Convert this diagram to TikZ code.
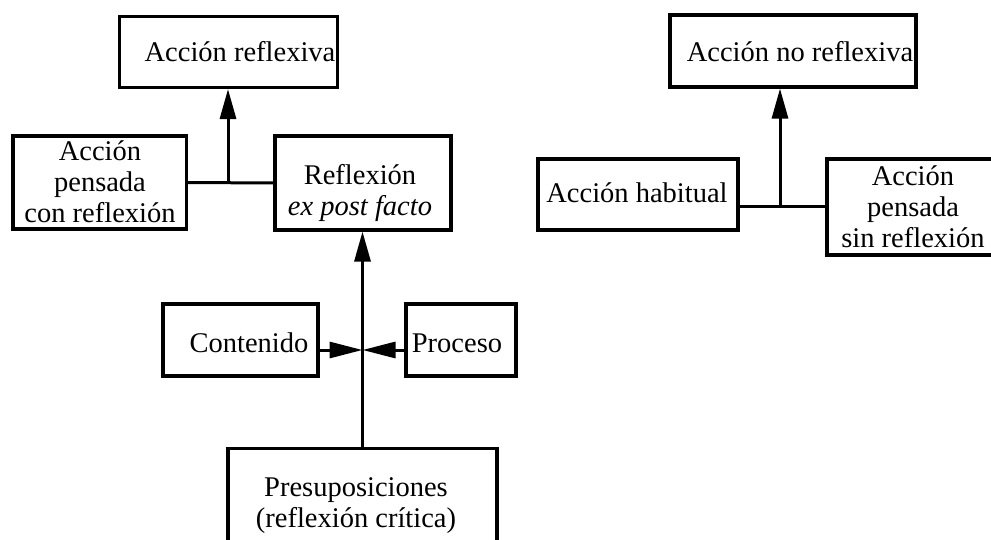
\documentclass[tikz,border=0pt]{standalone}
\usepackage{fontspec}
\setmainfont{Liberation Serif}
\usetikzlibrary{arrows.meta}
\begin{document}
\begin{tikzpicture}[x=1pt,y=-1pt,
  box/.style={draw, line width=3.1pt, inner sep=0pt, rectangle},
  lbl/.style={inner sep=0pt, align=center, font=\fontsize{28.5}{31}\selectfont},
  link/.style={line width=3pt},
  arr/.style={line width=3pt, -{Triangle[length=30pt,width=16pt]}},
  harr/.style={line width=3pt, -{Triangle[length=33pt,width=16pt]}}]
\useasboundingbox (0,0) rectangle (991,540);

% left diagram: boxes
\node[box, minimum width=218pt, minimum height=71pt] (ar)  at (228.5,52)  {};
\node[box, minimum width=173.5pt, minimum height=93pt] (apc) at (99.75,182.5) {};
\node[box, minimum width=176pt, minimum height=94pt] (rep) at (363,183) {};
\node[box, minimum width=155pt, minimum height=72pt] (con) at (240.5,340) {};
\node[box, minimum width=110pt, minimum height=72pt] (pro) at (461,340) {};
\node[box, minimum width=269pt, minimum height=111.5pt] (pre) at (362.5,504.25) {};

% left diagram: texts
\node[lbl, anchor=base] (tar) at (240,62) {Acción reflexiva};
\node[lbl] (tapc) at (100,182) {Acción\\pensada\\con reflexión};
\node[lbl] (trep) at (360,193) {Reflexión\\\textit{ex post facto}};
\node[lbl, anchor=base] (tcon) at (249,352) {Contenido};
\node[lbl, anchor=base] (tpro) at (457,352) {Proceso};
\node[lbl] (tpre) at (356,506) {Presuposiciones\\(reflexión crítica)};

% left diagram: connectors
\coordinate (jl) at (228,182.5);
\coordinate (m) at (362.5,350);
\draw[link] (apc.east) -- (rep.west);
\draw[arr] (jl) -- (jl |- ar.south);
\draw[link] (pre.north) -- (m);
\draw[arr] (m) -- (m |- rep.south);
\draw[harr] (con.east |- m) -- (m);
\draw[harr] (pro.west |- m) -- (m);

% right diagram: boxes
\node[box, minimum width=246pt, minimum height=72pt] (anr) at (793,51) {};
\node[box, minimum width=200pt, minimum height=71pt] (ah)  at (638,194.5) {};
\node[box, minimum width=173pt, minimum height=96pt] (asr) at (913.5,207) {};

% right diagram: texts
\node[lbl, anchor=base] (tanr) at (800,62) {Acción no reflexiva};
\node[lbl, anchor=base] (tah) at (637,203) {Acción habitual};
\node[lbl] (tasr) at (913,207) {Acción\\pensada\\sin reflexión};

% right diagram: connectors
\coordinate (jr) at (780,207);
\draw[link] (ah.east |- jr) -- (asr.west |- jr);
\draw[arr] (jr) -- (jr |- anr.south);
\end{tikzpicture}
\end{document}
